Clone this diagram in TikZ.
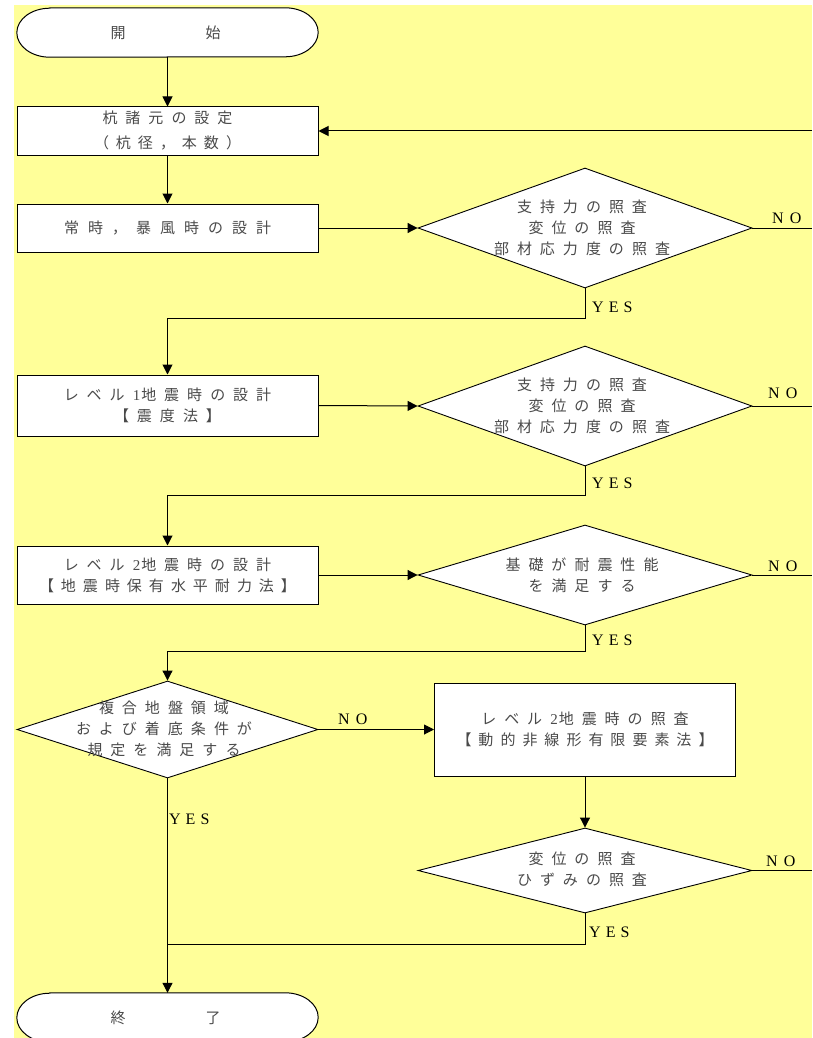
\documentclass[tikz,border=0pt]{standalone}
\usepackage{fontspec}
\setmainfont{Liberation Serif}
\newfontfamily\jp{Noto Sans CJK JP}
\usetikzlibrary{arrows.meta,shapes.geometric}
\definecolor{bgyellow}{HTML}{FFFF99}
\definecolor{jpgray}{HTML}{4A4A4A}
\ExplSyntaxOn
\NewDocumentCommand\jpsp{O{8pt}m}{
  \bool_set_false:N \l_tmpa_bool
  \tl_map_inline:nn {#2} {
    \bool_if:NT \l_tmpa_bool { \kern#1 }
    {##1}
    \bool_set_true:N \l_tmpa_bool
  }
}
\ExplSyntaxOff
\tikzset{
  ln/.style={line width=1pt, draw=black},
  arr/.style={ln, -{Triangle[length=10pt,width=10pt]}},
  ph/.style={inner sep=0pt, minimum width=301pt},
  box/.style={draw, line width=1pt, fill=white, inner sep=0pt, minimum width=301pt,
    font=\jp\fontsize{15}{21}\selectfont, text=jpgray, align=center},
  dia/.style={diamond, draw, line width=0.9pt, fill=white, inner sep=0pt},
  jt/.style={font=\jp\fontsize{15}{21}\selectfont, text=jpgray, align=center, inner sep=0pt},
  yn/.style={font=\fontsize{16}{16}\selectfont, inner sep=0pt, anchor=west},
  termline/.style={ln, fill=white}
}
\begin{document}
\begin{tikzpicture}[x=1pt,y=-1pt]
\useasboundingbox (0,0) rectangle (812,1038);
\clip (0,0) rectangle (812,1038);
\fill[white] (0,0) rectangle (812,1038);
\fill[bgyellow] (14,5) rectangle (812,1038);

% start terminal
\node[ph, minimum height=49pt] (t1) at (167.5,32.5) {};
\draw[termline] ([xshift=33pt]t1.north west) -- ([xshift=-33pt]t1.north east)
  arc[start angle=90, end angle=-90, x radius=33pt, y radius=24.5pt]
  -- ([xshift=33pt]t1.south west)
  arc[start angle=270, end angle=90, x radius=33pt, y radius=24.5pt] -- cycle;
\node[jt] (t1t) at (165.5,32.5) {開\kern80pt始};

% boxes
\node[box, minimum height=48pt] (b1) at (167.5,131) {\jpsp{杭諸元の設定}\\[4pt]\jpsp[7pt]{（杭径，本数）}};
\node[box, minimum height=48pt] (b2) at (167.5,228) {\jpsp[9pt]{常時，暴風時の設計}};
\node[box, minimum height=61pt] (b3) at (167.5,405.5) {\jpsp{レベル{{\rmfamily 1}\kern1pt 地}震時の設計}\\\jpsp{【震度法】}};
\node[box, minimum height=58pt] (b4) at (167.5,575) {\jpsp{レベル{{\rmfamily 2}\kern1pt 地}震時の設計}\\\jpsp[7pt]{【地震時保有水平耐力法】}};
\node[box, minimum height=93pt] (b5) at (585,729.5) {\jpsp{レベル{{\rmfamily 2}\kern1pt 地}震時の照査}\\\jpsp[7pt]{【動的非線形有限要素法】}};

% diamonds
\node[dia, minimum width=334pt, minimum height=120pt] (d1) at (585,228) {};
\node[jt] (d1t) at (582,228) {\jpsp{支持力の照査}\\\jpsp{変位の照査}\\\jpsp{部材応力度の照査}};
\node[dia, minimum width=334pt, minimum height=120pt] (d2) at (585,406) {};
\node[jt] (d2t) at (582,406) {\jpsp{支持力の照査}\\\jpsp{変位の照査}\\\jpsp{部材応力度の照査}};
\node[dia, minimum width=334pt, minimum height=100pt] (d3) at (585,575) {};
\node[jt] (d3t) at (582,575) {\jpsp{基礎が耐震性能}\\\jpsp{を満足する}};
\node[dia, minimum width=301pt, minimum height=97pt] (d4) at (167.5,729.5) {};
\node[jt] (d4t) at (164,729) {\jpsp{複合地盤領域}\\\jpsp{および着底条件が}\\\jpsp{規定を満足する}};
\node[dia, minimum width=334pt, minimum height=85pt] (d5) at (585,870.5) {};
\node[jt] (d5t) at (582,869.5) {\jpsp{変位の照査}\\\jpsp{ひずみの照査}};

% end terminal
\node[ph, minimum height=49pt] (t2) at (167.5,1017.5) {};
\draw[termline] ([xshift=33pt]t2.north west) -- ([xshift=-33pt]t2.north east)
  arc[start angle=90, end angle=-90, x radius=33pt, y radius=24.5pt]
  -- ([xshift=33pt]t2.south west)
  arc[start angle=270, end angle=90, x radius=33pt, y radius=24.5pt] -- cycle;
\node[jt] (t2t) at (165.5,1017.5) {終\kern80pt了};

% right-edge coordinates
\coordinate (r0) at (812,131);
\coordinate (r1) at (812,228);
\coordinate (r2) at (812,406);
\coordinate (r3) at (812,575);
\coordinate (r5) at (812,870.5);
\coordinate (j5) at (167.5,944);

% connectors
\draw[arr] (t1.south) -- (b1.north);
\draw[arr] (b1.south) -- (b2.north);
\draw[arr] (r0) -- (b1.east);
\draw[arr] (b2.east) -- (d1.west);
\draw[ln] (d1.east) -- (r1);
\draw[arr] (d1.south) -- ++(0,30) -| (b3.north);
\draw[arr] (b3.east) -- (d2.west);
\draw[ln] (d2.east) -- (r2);
\draw[arr] (d2.south) -- ++(0,29) -| (b4.north);
\draw[arr] (b4.east) -- (d3.west);
\draw[ln] (d3.east) -- (r3);
\draw[arr] (d3.south) -- ++(0,26) -| (d4.north);
\draw[arr] (d4.east) -- (b5.west);
\draw[arr] (b5.south) -- (d5.north);
\draw[ln] (d5.east) -- (r5);
\draw[ln] (d5.south) |- (j5);
\draw[arr] (d4.south) -- (t2.north);

% labels
\node[yn] (y1) at (592,307.5) {\jpsp[5pt]{YES}};
\node[yn] (n1) at (772,218) {\jpsp[6pt]{NO}};
\node[yn] (y2) at (592,483) {\jpsp[5pt]{YES}};
\node[yn] (n2) at (768,393) {\jpsp[6pt]{NO}};
\node[yn] (y3) at (592,640) {\jpsp[5pt]{YES}};
\node[yn] (n3) at (768,566) {\jpsp[6pt]{NO}};
\node[yn] (y4) at (169,819) {\jpsp[5pt]{YES}};
\node[yn] (n4) at (338,719) {\jpsp[6pt]{NO}};
\node[yn] (y5) at (589,932) {\jpsp[5pt]{YES}};
\node[yn] (n5) at (766,861) {\jpsp[6pt]{NO}};
\end{tikzpicture}
\end{document}
